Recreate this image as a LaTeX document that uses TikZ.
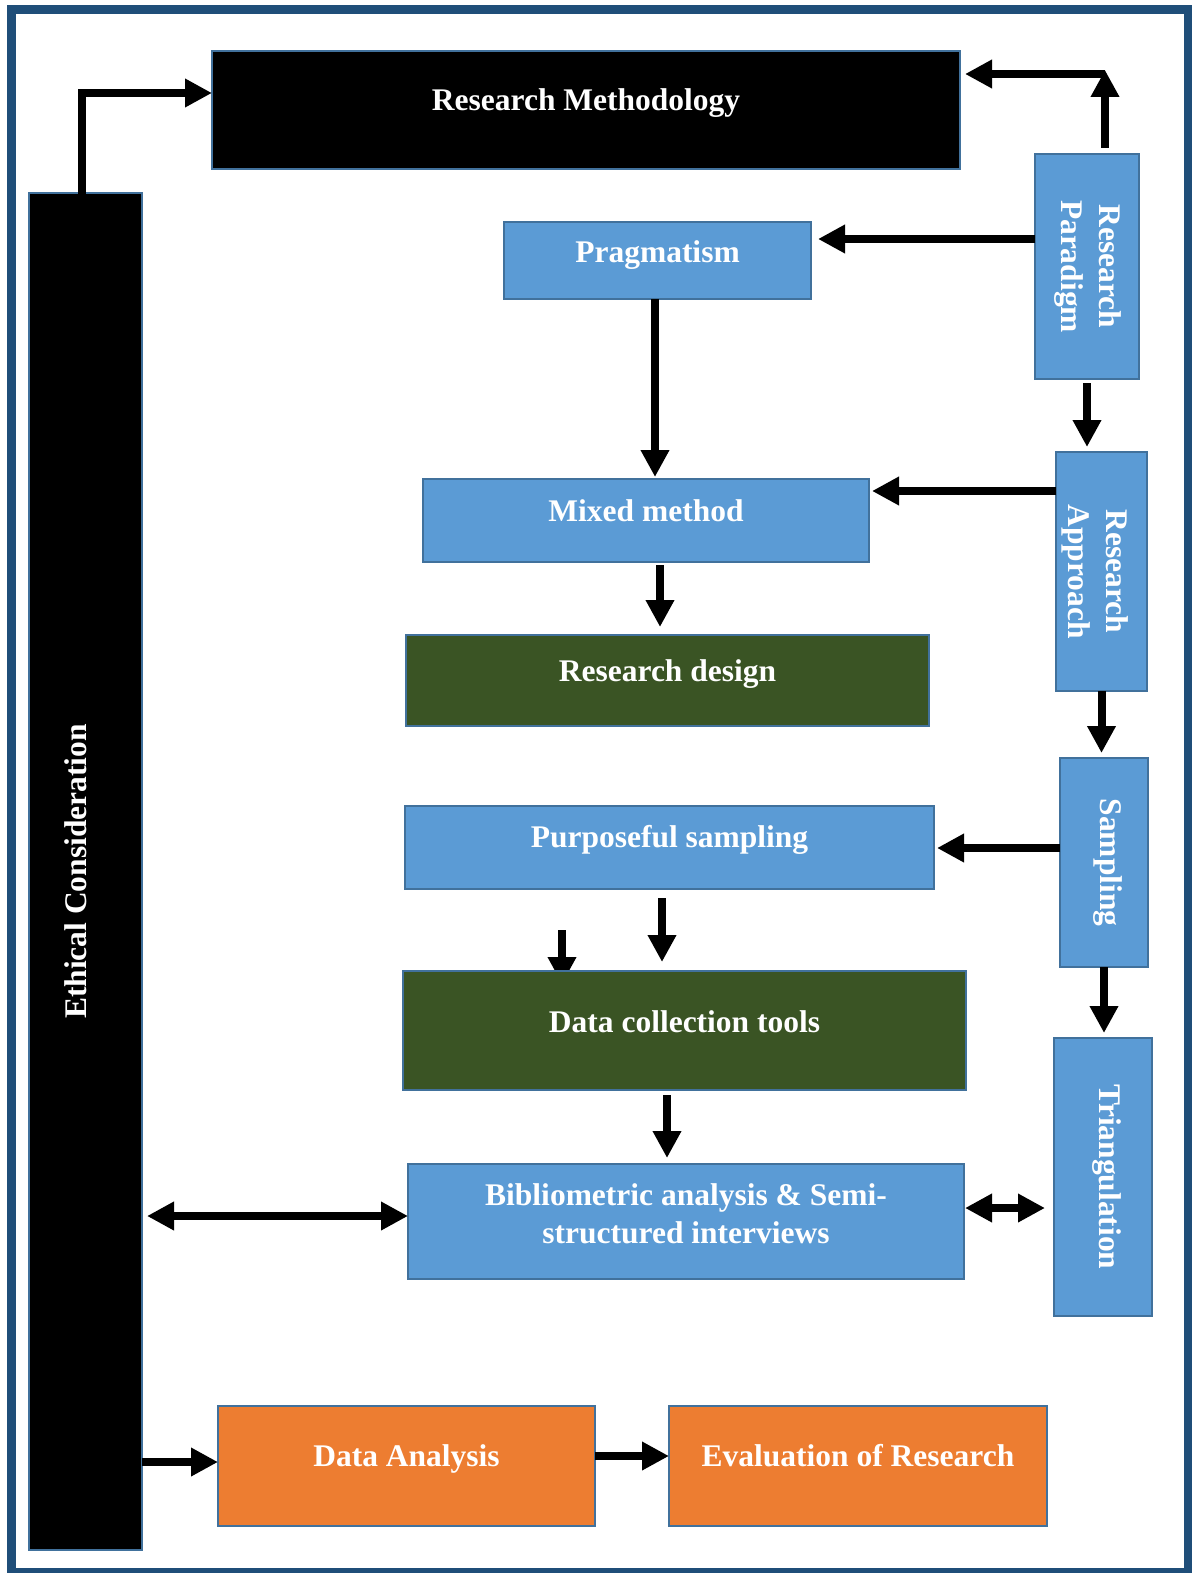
\documentclass[tikz,border=0pt]{standalone}
\usepackage{fontspec}
\setmainfont{Liberation Serif}
\usetikzlibrary{arrows.meta,backgrounds}

\definecolor{framec}{HTML}{1F4E79}
\definecolor{edgec}{HTML}{41719C}
\definecolor{bluec}{HTML}{5B9BD5}
\definecolor{greenc}{HTML}{3A5424}
\definecolor{orangec}{HTML}{ED7D31}

\begin{document}
\begin{tikzpicture}[x=1pt,y=-1pt,
  box/.style={draw=edgec, line width=2pt, inner sep=0pt, outer sep=0pt},
  blackbox/.style={box, fill=black},
  bluebox/.style={box, fill=bluec},
  greenbox/.style={box, fill=greenc},
  orangebox/.style={box, fill=orangec},
  lbl/.style={text=white, font=\fontsize{31.5}{38}\selectfont\bfseries, align=center, inner sep=0pt},
  arr/.style={line width=8pt, -{Triangle[length=27pt,width=27pt]}},
  darr/.style={line width=8pt, {Triangle[length=27pt,width=27pt]}-{Triangle[length=27pt,width=27pt]}},
]
\useasboundingbox (0,0) rectangle (1191,1573);

% outer frame
\draw[line width=9pt, framec] (11.5,10) rectangle (1188.5,1572.5);

% boxes
\node[blackbox, minimum width=748pt, minimum height=118pt] (rm) at (586,110) {};
\node[blackbox, minimum width=113pt, minimum height=1357pt] (eth) at (85.5,871.5) {};
\node[bluebox, minimum width=104pt, minimum height=225pt] (rp) at (1087,266.5) {};
\node[bluebox, minimum width=307pt, minimum height=77pt] (prag) at (657.5,260.5) {};
\node[bluebox, minimum width=446pt, minimum height=83pt] (mm) at (646,520.5) {};
\node[bluebox, minimum width=91pt, minimum height=239pt] (ra) at (1101.5,571.5) {};
\node[greenbox, minimum width=523pt, minimum height=91pt] (rd) at (667.5,680.5) {};
\node[bluebox, minimum width=529pt, minimum height=83pt] (ps) at (669.5,847.5) {};
\node[bluebox, minimum width=88pt, minimum height=209pt] (samp) at (1104,862.5) {};
\node[greenbox, minimum width=563pt, minimum height=119pt] (dct) at (684.5,1030.5) {};
\node[bluebox, minimum width=98pt, minimum height=278pt] (tri) at (1103,1177) {};
\node[bluebox, minimum width=556pt, minimum height=115pt] (bib) at (686,1221.5) {};
\node[orangebox, minimum width=377pt, minimum height=120pt] (da) at (406.5,1466) {};
\node[orangebox, minimum width=378pt, minimum height=120pt] (er) at (858,1466) {};

% texts
\node[lbl] (rm-t) at ([yshift=7pt]rm.center) {Research Methodology};
\node[lbl, rotate=90] (eth-t) at ([xshift=-10pt]eth.center) {Ethical Consideration};
\node[lbl, rotate=-90] (rp-t) at ([xshift=1pt]rp.center) {Research\\Paradigm};
\node[lbl] (prag-t) at ([yshift=5pt]prag.center) {Pragmatism};
\node[lbl] (mm-t) at ([yshift=10pt]mm.center) {Mixed method};
\node[lbl, rotate=-90] (ra-t) at ([xshift=-6pt]ra.center) {Research\\Approach};
\node[lbl] (rd-t) at ([yshift=6pt]rd.center) {Research design};
\node[lbl] (ps-t) at ([yshift=8pt]ps.center) {Purposeful sampling};
\node[lbl, rotate=-90] (samp-t) at ([xshift=4pt]samp.center) {Sampling};
\node[lbl] (dct-t) at ([yshift=9pt]dct.center) {Data collection tools};
\node[lbl, rotate=-90] (tri-t) at ([xshift=4pt]tri.center) {Triangulation};
\node[lbl] (bib-t) at ([yshift=8pt]bib.center) {Bibliometric analysis \& Semi-\\structured interviews};
\node[lbl] (da-t) at ([yshift=7pt]da.center) {Data Analysis};
\node[lbl] (er-t) at ([yshift=10pt]er.center) {Evaluation of Research};

% connectors
\coordinate (c1) at (82,93);
\draw[arr] (c1 |- eth.north) ++(0,5) -- (c1) -- (c1 -| rm.west);

\coordinate (c2) at (1105,74);
\draw[arr, shorten <=6pt, shorten >=-4pt] (c2 |- rp.north) -- (c2);
\draw[arr, shorten >=5pt] (c2) -- (c2 -| rm.east);

\draw[arr, shorten >=7pt] ([yshift=27.5pt]rp.west) -- ([yshift=27.5pt]rp.west -| prag.east);
\draw[arr, shorten >=2pt] (prag.south -| 655,0) -- (mm.north -| 655,0);
\draw[arr, shorten <=4pt, shorten >=5pt] (rp.south) -- (rp.south |- ra.north);
\draw[arr, shorten >=3pt] ([yshift=80.5pt]ra.west) -- ([yshift=80.5pt]ra.west -| mm.east);
\draw[arr, shorten <=3pt, shorten >=8pt] ([xshift=14pt]mm.south) -- ([xshift=14pt]mm.south |- rd.north);
\draw[arr, shorten >=5pt] (ra.south) -- (ra.south |- samp.north);
\draw[arr, shorten >=3pt] ([yshift=14.5pt]samp.west) -- ([yshift=14.5pt]samp.west -| ps.east);
\draw[arr, shorten <=9pt, shorten >=9pt] ([xshift=-7.5pt]ps.south) -- ([xshift=-7.5pt]ps.south |- dct.north);
\draw[arr, shorten >=5pt] (samp.south) -- (samp.south |- tri.north);

\begin{scope}[on background layer]
  \coordinate (stub) at (562,930);
  \draw[arr, shorten >=-13pt] (stub) -- (stub |- dct.north);
\end{scope}

\draw[arr, shorten <=5pt, shorten >=6pt] ([xshift=-17.5pt]dct.south) -- ([xshift=-17.5pt]dct.south |- bib.north);
\draw[darr, shorten <=5pt] ([yshift=5.5pt]bib.west -| eth.east) -- ([yshift=5.5pt]bib.west);
\draw[darr, shorten <=1pt, shorten >=9pt] ([yshift=13.5pt]bib.east) -- ([yshift=13.5pt]bib.east -| tri.west);
\draw[arr] ([yshift=4pt]da.west -| eth.east) -- ([yshift=4pt]da.west);
\draw[arr] ([yshift=10pt]da.east) -- ([yshift=10pt]er.west);
\end{tikzpicture}
\end{document}
